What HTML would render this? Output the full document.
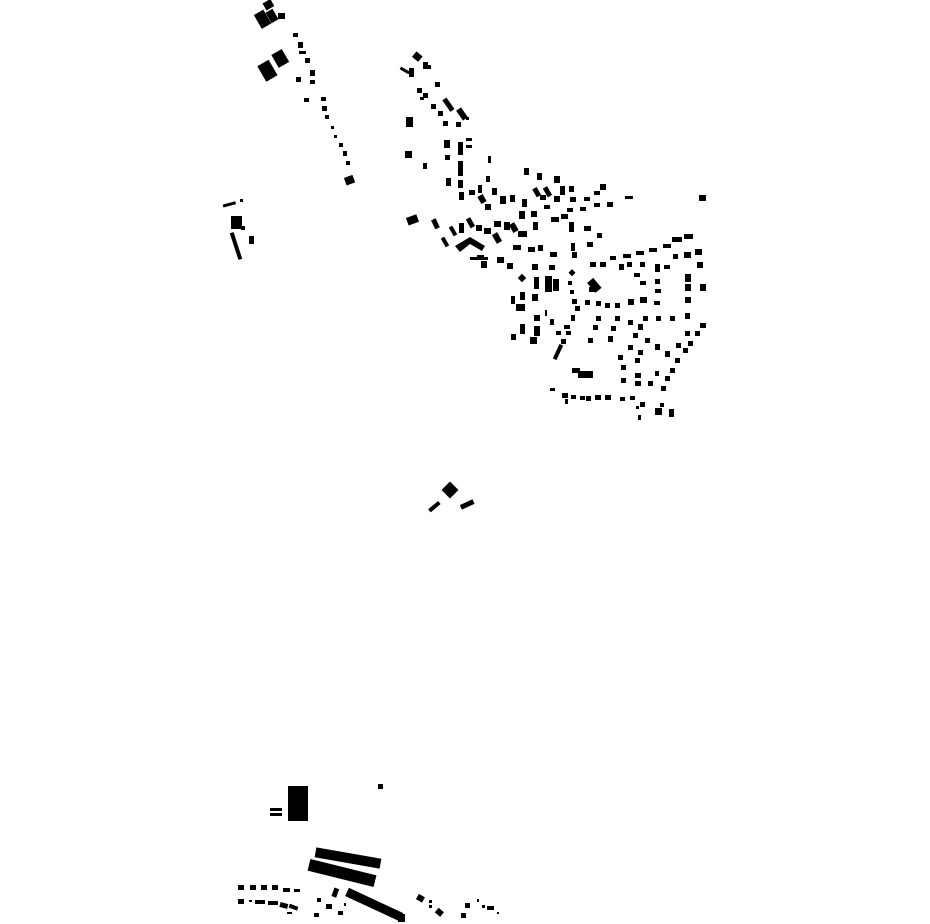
<!DOCTYPE html>
<html><head><meta charset="utf-8"><style>html,body{margin:0;padding:0;background:#fff}svg{display:block}</style></head>
<body>
<svg width="930" height="924" viewBox="0 0 930 924" xmlns="http://www.w3.org/2000/svg" fill="#000">
<!-- top-left cluster -->
<rect x="257" y="11" width="11" height="16" transform="rotate(-30 263 19)"/>
<rect x="264" y="1" width="9" height="8" transform="rotate(-30 268 5)"/>
<rect x="268" y="10" width="8" height="12" transform="rotate(-30 272 16)"/>
<rect x="278" y="13" width="7" height="6"/>
<rect x="261" y="62" width="13" height="18" transform="rotate(-30 267 71)"/>
<rect x="274" y="51" width="12" height="15" transform="rotate(-30 280 58)"/>
<rect x="293" y="33" width="5" height="4"/><rect x="298" y="42" width="5" height="6"/><rect x="299" y="51" width="7" height="3"/>
<rect x="305" y="58" width="5" height="5"/><rect x="310" y="70" width="5" height="6"/><rect x="296" y="77" width="5" height="5"/><rect x="310" y="80" width="5" height="4"/>
<rect x="304" y="98" width="5" height="4"/><rect x="321" y="97" width="5" height="4"/><rect x="322" y="106" width="5" height="5"/><rect x="325" y="115" width="4" height="4"/>
<rect x="331" y="126" width="3" height="3"/><rect x="334" y="135" width="3" height="3"/><rect x="339" y="143" width="4" height="4"/><rect x="343" y="151" width="4" height="5"/><rect x="346" y="161" width="4" height="4"/>
<rect x="345" y="176" width="9" height="8" transform="rotate(-20 350 180)"/>
<!-- left cluster -->
<rect x="223" y="203" width="13" height="3" transform="rotate(-15 229 205)"/><rect x="240" y="199" width="3" height="3"/>
<rect x="231" y="216" width="11" height="13"/><rect x="241" y="226" width="4" height="4"/>
<rect x="234" y="232" width="4" height="28" transform="rotate(-18 236 246)"/><rect x="249" y="236" width="5" height="8"/>
<!-- main cluster -->
<g>
<rect x="413" y="53" width="8" height="7" transform="rotate(40 417 57)"/><rect x="400" y="69" width="10" height="3" transform="rotate(30 405 70)"/>
<rect x="409" y="68" width="5" height="9"/><rect x="423" y="62" width="5" height="7"/><rect x="426" y="65" width="5" height="4"/>
<rect x="435" y="82" width="5" height="5"/><rect x="417" y="88" width="5" height="5"/><rect x="423" y="93" width="5" height="5"/><rect x="420" y="97" width="4" height="3"/>
<rect x="431" y="104" width="5" height="5"/><rect x="438" y="111" width="5" height="5"/><rect x="443" y="121" width="5" height="5"/>
<rect x="446" y="98" width="5" height="14" transform="rotate(-35 448 105)"/><rect x="459" y="108" width="6" height="12" transform="rotate(-35 462 114)"/><rect x="466" y="117" width="3" height="3"/>
<rect x="456" y="122" width="5" height="5"/><rect x="406" y="117" width="7" height="10"/><rect x="405" y="151" width="7" height="7"/><rect x="423" y="163" width="4" height="6"/>
<rect x="444" y="140" width="6" height="8"/><rect x="445" y="155" width="5" height="5"/><rect x="458" y="142" width="5" height="13"/><rect x="466" y="138" width="6" height="3"/><rect x="466" y="145" width="6" height="3"/>
<rect x="458" y="161" width="5" height="15"/><rect x="446" y="178" width="5" height="8"/><rect x="458" y="180" width="5" height="8"/>
<rect x="407" y="216" width="11" height="8" transform="rotate(-20 412 220)"/><rect x="433" y="219" width="5" height="10" transform="rotate(-25 435 224)"/>
<rect x="443" y="237" width="4" height="10" transform="rotate(-30 445 242)"/><rect x="451" y="226" width="4" height="10" transform="rotate(-30 453 231)"/>
<polygon points="455,246 470,237 485,246 482,251 470,244 460,252"/>
<rect x="470" y="257" width="18" height="3"/><rect x="481" y="261" width="6" height="7"/>
<rect x="488" y="156" width="3" height="7"/><rect x="478" y="185" width="4" height="8"/><rect x="486" y="176" width="4" height="6"/>
<rect x="459" y="192" width="5" height="8"/><rect x="469" y="190" width="6" height="5"/><rect x="479" y="195" width="6" height="8" transform="rotate(-30 482 199)"/>
<rect x="492" y="188" width="5" height="7"/><rect x="485" y="204" width="6" height="6"/><rect x="500" y="196" width="6" height="8"/><rect x="510" y="195" width="5" height="7"/>
<rect x="522" y="199" width="5" height="8"/><rect x="524" y="168" width="5" height="7"/><rect x="537" y="173" width="5" height="7"/><rect x="554" y="176" width="6" height="7"/>
<rect x="534" y="188" width="5" height="9" transform="rotate(-30 536 192)"/><rect x="545" y="187" width="5" height="10" transform="rotate(-30 547 192)"/><rect x="560" y="186" width="5" height="9"/>
<rect x="540" y="195" width="6" height="5"/><rect x="554" y="196" width="6" height="6"/><rect x="570" y="197" width="6" height="5"/><rect x="569" y="186" width="5" height="6"/>
<rect x="544" y="205" width="6" height="4"/><rect x="567" y="208" width="6" height="4"/><rect x="580" y="207" width="6" height="4"/><rect x="584" y="197" width="6" height="4"/>
<rect x="594" y="191" width="6" height="4"/><rect x="600" y="184" width="6" height="6"/><rect x="594" y="203" width="6" height="4"/><rect x="607" y="202" width="6" height="5"/>
<rect x="625" y="196" width="8" height="3"/><rect x="699" y="195" width="7" height="6"/>
<rect x="459" y="223" width="5" height="10"/><rect x="468" y="218" width="5" height="10" transform="rotate(-30 470 223)"/>
<rect x="476" y="225" width="6" height="6"/><rect x="484" y="228" width="7" height="6"/><rect x="494" y="221" width="7" height="6"/><rect x="494" y="233" width="6" height="10" transform="rotate(-30 497 238)"/>
<rect x="504" y="222" width="6" height="8"/><rect x="511" y="223" width="6" height="9" transform="rotate(-30 514 228)"/><rect x="519" y="211" width="6" height="8"/>
<rect x="531" y="211" width="6" height="6"/><rect x="518" y="231" width="9" height="6"/><rect x="533" y="222" width="5" height="8"/><rect x="551" y="217" width="8" height="5"/><rect x="561" y="214" width="7" height="5"/>
<rect x="569" y="222" width="5" height="10"/><rect x="584" y="226" width="7" height="5"/><rect x="597" y="233" width="5" height="5"/>
<rect x="477" y="255" width="7" height="5"/><rect x="497" y="257" width="7" height="6"/><rect x="507" y="263" width="6" height="6"/>
<rect x="513" y="245" width="8" height="5"/><rect x="528" y="247" width="7" height="5"/><rect x="538" y="245" width="5" height="6"/><rect x="550" y="252" width="7" height="5"/>
<rect x="532" y="264" width="6" height="6"/><rect x="549" y="265" width="6" height="5"/><rect x="571" y="243" width="4" height="8"/><rect x="572" y="252" width="5" height="6"/>
<rect x="587" y="242" width="6" height="5"/><rect x="590" y="262" width="6" height="5"/><rect x="600" y="262" width="6" height="5"/><rect x="610" y="256" width="6" height="4"/>
<rect x="623" y="254" width="8" height="4"/><rect x="636" y="251" width="8" height="4"/><rect x="649" y="248" width="8" height="4"/><rect x="663" y="244" width="8" height="4"/>
<rect x="672" y="237" width="10" height="5"/><rect x="684" y="234" width="9" height="5"/><rect x="684" y="252" width="7" height="6"/><rect x="695" y="249" width="7" height="6"/>
<rect x="619" y="264" width="5" height="6"/><rect x="627" y="262" width="5" height="5"/><rect x="640" y="262" width="5" height="5"/><rect x="655" y="264" width="5" height="5"/><rect x="664" y="265" width="6" height="4"/>
<rect x="673" y="254" width="5" height="5"/><rect x="697" y="262" width="6" height="6"/>
<rect x="519" y="275" width="6" height="6" transform="rotate(45 522 278)"/><rect x="534" y="277" width="5" height="12"/><rect x="545" y="276" width="7" height="16"/><rect x="553" y="279" width="6" height="12"/>
<rect x="570" y="270" width="5" height="5" transform="rotate(45 572 272)"/><rect x="590" y="279" width="8" height="13" transform="rotate(-40 594 285)"/><rect x="589" y="287" width="6" height="5"/>
<rect x="568" y="281" width="4" height="4"/><rect x="570" y="290" width="4" height="4"/><rect x="520" y="292" width="5" height="8"/><rect x="511" y="296" width="4" height="8"/><rect x="516" y="304" width="9" height="7"/>
<rect x="532" y="294" width="6" height="7"/><rect x="545" y="310" width="2" height="6"/><rect x="572" y="299" width="5" height="5"/><rect x="575" y="306" width="5" height="5"/>
<rect x="585" y="300" width="5" height="5"/><rect x="596" y="301" width="5" height="5"/><rect x="605" y="303" width="5" height="5"/><rect x="615" y="303" width="5" height="5"/>
<rect x="628" y="299" width="6" height="6"/><rect x="640" y="297" width="7" height="6"/><rect x="654" y="301" width="6" height="4"/><rect x="655" y="289" width="6" height="4"/>
<rect x="640" y="281" width="6" height="4"/><rect x="655" y="279" width="5" height="5"/><rect x="634" y="273" width="6" height="4"/><rect x="655" y="267" width="5" height="5"/>
<rect x="685" y="274" width="6" height="8"/><rect x="685" y="284" width="6" height="7"/><rect x="700" y="284" width="6" height="7"/><rect x="685" y="297" width="6" height="6"/><rect x="685" y="313" width="5" height="6"/>
<rect x="534" y="315" width="6" height="6"/><rect x="520" y="324" width="5" height="10"/><rect x="534" y="326" width="6" height="10"/><rect x="511" y="334" width="5" height="6"/><rect x="530" y="337" width="7" height="7"/>
<rect x="550" y="319" width="4" height="6"/><rect x="571" y="315" width="4" height="6"/><rect x="564" y="325" width="6" height="4"/><rect x="566" y="331" width="5" height="4"/>
<rect x="556" y="331" width="5" height="4"/><rect x="561" y="339" width="5" height="5"/><rect x="556" y="344" width="4" height="16" transform="rotate(25 558 352)"/>
<rect x="588" y="338" width="5" height="5"/><rect x="596" y="316" width="5" height="5"/><rect x="615" y="316" width="5" height="5"/><rect x="628" y="320" width="5" height="5"/>
<rect x="643" y="316" width="5" height="5"/><rect x="656" y="316" width="5" height="5"/><rect x="670" y="316" width="5" height="5"/><rect x="593" y="325" width="5" height="5"/>
<rect x="611" y="326" width="5" height="5"/><rect x="608" y="336" width="5" height="6"/><rect x="638" y="324" width="5" height="6"/><rect x="633" y="333" width="5" height="5"/>
<rect x="645" y="338" width="5" height="5"/><rect x="628" y="345" width="5" height="5"/><rect x="638" y="350" width="5" height="5"/><rect x="655" y="344" width="5" height="6"/>
<rect x="665" y="351" width="5" height="6"/><rect x="676" y="343" width="5" height="5"/><rect x="685" y="331" width="5" height="5"/><rect x="695" y="331" width="5" height="5"/>
<rect x="700" y="323" width="6" height="5"/><rect x="688" y="341" width="5" height="5"/><rect x="683" y="348" width="5" height="5"/><rect x="675" y="358" width="5" height="5"/>
<rect x="670" y="368" width="5" height="5"/><rect x="665" y="376" width="5" height="5"/><rect x="661" y="386" width="5" height="5"/><rect x="655" y="371" width="4" height="5"/>
<rect x="648" y="381" width="5" height="5"/><rect x="635" y="373" width="6" height="5"/><rect x="635" y="381" width="6" height="5"/><rect x="621" y="365" width="5" height="5"/>
<rect x="621" y="378" width="5" height="5"/><rect x="618" y="355" width="5" height="5"/><rect x="635" y="358" width="5" height="5"/>
<rect x="572" y="368" width="8" height="5"/><rect x="578" y="371" width="15" height="7"/>
<rect x="550" y="388" width="5" height="3"/><rect x="562" y="393" width="6" height="5"/><rect x="571" y="395" width="5" height="4"/><rect x="580" y="396" width="5" height="4"/>
<rect x="586" y="396" width="5" height="5"/><rect x="595" y="395" width="6" height="5"/><rect x="605" y="395" width="6" height="5"/><rect x="620" y="397" width="5" height="4"/>
<rect x="630" y="396" width="5" height="4"/><rect x="640" y="402" width="5" height="5"/><rect x="636" y="406" width="3" height="3"/><rect x="655" y="408" width="7" height="7"/>
<rect x="669" y="409" width="5" height="8"/><rect x="660" y="403" width="4" height="4"/><rect x="638" y="415" width="3" height="5"/><rect x="565" y="399" width="3" height="5"/>
</g>
<!-- middle -->
<rect x="444" y="484" width="12" height="12" transform="rotate(45 450 490)"/>
<rect x="428" y="505" width="13" height="4" transform="rotate(-40 434 507)"/>
<rect x="460" y="502" width="14" height="5" transform="rotate(-25 467 504)"/>
<!-- bottom -->
<rect x="288" y="786" width="20" height="35"/>
<rect x="270" y="808" width="12" height="3"/><rect x="270" y="813" width="12" height="3"/>
<rect x="378" y="784" width="5" height="5"/>
<rect x="315" y="853" width="66" height="10" transform="rotate(10 348 858)"/>
<rect x="308" y="867" width="68" height="12" transform="rotate(14 342 873)"/>
<rect x="344" y="900" width="60" height="9" transform="rotate(25 374 905)"/>
<rect x="333" y="888" width="5" height="9" transform="rotate(20 335 892)"/>
<rect x="398" y="914" width="7" height="8"/>
<rect x="238" y="885" width="6" height="5"/><rect x="250" y="885" width="6" height="5"/><rect x="261" y="885" width="6" height="5"/><rect x="272" y="885" width="6" height="5"/>
<rect x="283" y="888" width="7" height="4"/><rect x="294" y="889" width="6" height="3"/>
<rect x="238" y="899" width="6" height="5"/><rect x="249" y="900" width="3" height="2"/><rect x="255" y="900" width="10" height="4"/><rect x="268" y="901" width="10" height="4"/>
<rect x="280" y="903" width="8" height="5" transform="rotate(15 284 905)"/><rect x="289" y="905" width="9" height="4" transform="rotate(20 293 907)"/>
<rect x="287" y="912" width="5" height="2"/><rect x="317" y="898" width="4" height="4"/><rect x="326" y="904" width="6" height="5"/><rect x="314" y="913" width="5" height="4"/>
<rect x="338" y="911" width="5" height="4"/><rect x="344" y="903" width="2" height="3"/>
<rect x="417" y="895" width="7" height="6" transform="rotate(30 420 898)"/><rect x="429" y="900" width="3" height="3"/><rect x="429" y="905" width="3" height="3"/>
<rect x="436" y="909" width="7" height="6" transform="rotate(40 439 912)"/><rect x="465" y="903" width="5" height="5"/><rect x="461" y="913" width="5" height="5"/>
<rect x="477" y="899" width="2" height="3"/><rect x="482" y="905" width="3" height="3"/><rect x="487" y="906" width="7" height="4"/><rect x="497" y="912" width="2" height="2"/>
</svg>
</body></html>
